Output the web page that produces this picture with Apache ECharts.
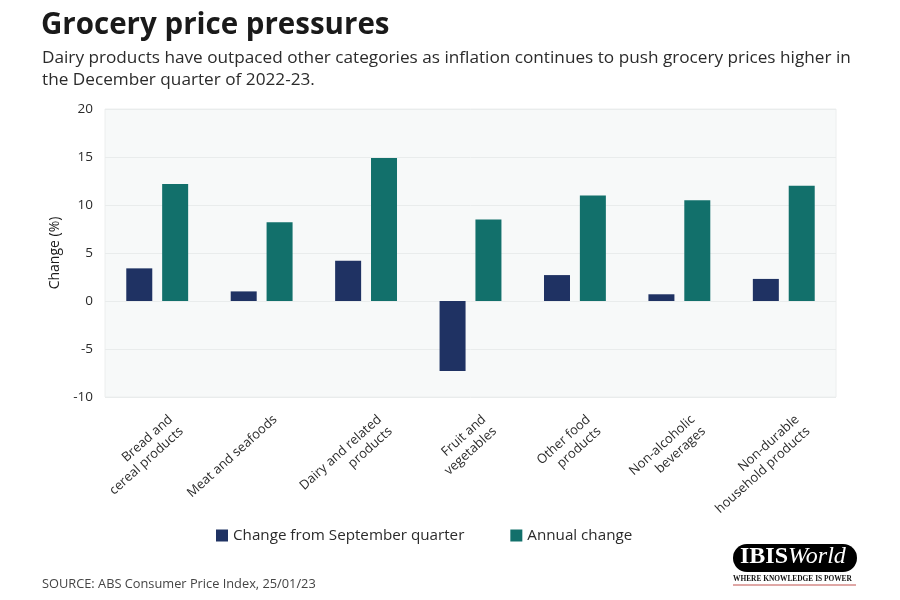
<!DOCTYPE html>
<html>
<head>
<meta charset="utf-8">
<script src="https://cdn.jsdelivr.net/npm/echarts@6/dist/echarts.min.js"></script>
<style>
html,body{margin:0;padding:0;background:#fff;}
#main{width:900px;height:600px;}
</style>
</head>
<body>
<div id="main"></div>
<script>
var categories = [
  "Bread and\ncereal products",
  "Meat and seafoods",
  "Dairy and related\nproducts",
  "Fruit and\nvegetables",
  "Other food\nproducts",
  "Non-alcoholic\nbeverages",
  "Non-durable\nhousehold products"
];
var quarterlyChange = [3.4, 1.0, 4.2, -7.3, 2.7, 0.7, 2.3];
var annualChange = [12.2, 8.2, 14.9, 8.5, 11.0, 10.5, 12.0];
var seriesNames = ["Change from September quarter", "Annual change"];
var yTicks = { min: -10, max: 20, interval: 5 };

var FONT = '"Open Sans", "Noto Sans", sans-serif';
var chart = echarts.init(document.getElementById('main'), null, { renderer: 'canvas' });
chart.setOption({
  animation: false,
  backgroundColor: '#ffffff',
  textStyle: { fontFamily: FONT },
  title: [
    {
      text: 'Grocery price pressures',
      left: 36, top: 6,
      textStyle: { fontFamily: FONT, fontSize: 29.5, fontWeight: 'bold', color: '#1a1a1a' }
    },
    {
      text: 'Dairy products have outpaced other categories as inflation continues to push grocery prices higher in\nthe December quarter of 2022-23.',
      left: 37, top: 42,
      textStyle: { fontFamily: FONT, fontSize: 17.2, fontWeight: 'normal', color: '#2b2b2b', lineHeight: 22 }
    },
    {
      text: 'SOURCE: ABS Consumer Price Index, 25/01/23',
      left: 37, top: 573,
      textStyle: { fontFamily: FONT, fontSize: 12.8, fontWeight: 'normal', color: '#444' }
    }
  ],
  grid: {
    left: 105, right: 64, top: 109, bottom: 203,
    show: true, backgroundColor: '#f7f9f9', borderColor: '#eceeee', borderWidth: 1
  },
  legend: {
    left: 211, top: 523,
    itemWidth: 12, itemHeight: 12, itemGap: 46,
    icon: 'rect',
    textStyle: { fontFamily: FONT, fontSize: 15.2, color: '#2b2b2b' },
    data: seriesNames
  },
  xAxis: {
    type: 'category',
    data: categories,
    axisLine: { show: false },
    axisTick: { show: false },
    splitLine: { show: false },
    axisLabel: {
      rotate: 42, interval: 0, margin: 22,
      verticalAlign: 'top',
      padding: [0, -11, 0, 0],
      fontFamily: FONT, fontSize: 13, lineHeight: 16, color: '#2b2b2b'
    }
  },
  yAxis: {
    type: 'value',
    min: yTicks.min, max: yTicks.max, interval: yTicks.interval,
    name: 'Change (%)',
    nameLocation: 'middle',
    nameGap: 43,
    nameTextStyle: { fontFamily: FONT, fontSize: 14, color: '#1a1a1a' },
    axisLine: { show: false },
    axisTick: { show: false },
    axisLabel: { margin: 12, fontFamily: FONT, fontSize: 13.5, color: '#2b2b2b' },
    splitLine: { lineStyle: { color: '#e9ecec', width: 1 } }
  },
  series: [
    {
      name: seriesNames[0], type: 'bar', data: quarterlyChange,
      barWidth: 26, barGap: '38%',
      itemStyle: { color: '#1f3263' }
    },
    {
      name: seriesNames[1], type: 'bar', data: annualChange,
      barWidth: 26,
      itemStyle: { color: '#12706b' }
    }
  ],
  graphic: [
    {
      type: 'rect', left: 733, top: 544,
      shape: { width: 124, height: 28, r: 14 },
      style: { fill: '#000' }
    },
    {
      type: 'text', left: 740, top: 545,
      style: {
        text: '{a|IBIS}{b|World}',
        rich: {
          a: { fontFamily: '"Liberation Serif", serif', fontWeight: 'bold', fontSize: 24, fill: '#fff' },
          b: { fontFamily: '"Liberation Serif", serif', fontStyle: 'italic', fontSize: 24, fill: '#fff' }
        }
      }
    },
    {
      type: 'text', left: 733, top: 576,
      style: {
        text: 'WHERE KNOWLEDGE IS POWER',
        fontFamily: '"Liberation Serif", serif', fontWeight: 'bold', fontSize: 7.4, fill: '#111'
      }
    },
    {
      type: 'line', shape: { x1: 733, y1: 585, x2: 856, y2: 585 },
      style: { stroke: '#c0504d', lineWidth: 1 }
    }
  ]
});
</script>
</body>
</html>
